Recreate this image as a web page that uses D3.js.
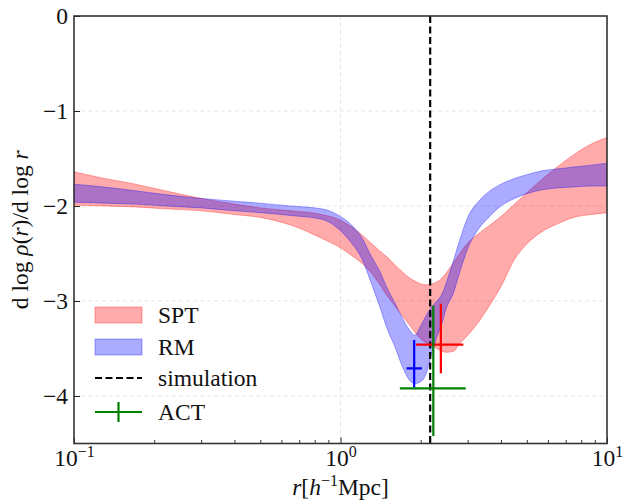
<!DOCTYPE html>
<html>
<head>
<meta charset="utf-8">
<script src="https://cdn.jsdelivr.net/npm/d3@7"></script>
<style>
  body { margin: 0; background: #fff; }
  text { font-family: "Liberation Serif", "Times New Roman", serif; fill: #111; }
</style>
</head>
<body>
<svg id="chart" width="623" height="501"></svg>
<script>
// Radii (h^-1 Mpc) at which the slope bands are sampled
const radius = [0.1, 0.13, 0.17, 0.22, 0.3, 0.4, 0.5, 0.65, 0.85, 1.0, 1.1, 1.2, 1.3, 1.4, 1.5, 1.6, 1.7, 1.8, 1.9, 2.0,
                2.1, 2.2, 2.3, 2.4, 2.5, 2.65, 2.8, 3.0, 3.3, 3.6, 4.0, 4.5, 5.0, 5.7, 6.5, 7.5, 8.7, 10];

// SPT logarithmic slope band
const sptUpper = [-1.64, -1.71, -1.77, -1.84, -1.92, -1.98, -2.02, -2.05, -2.09, -2.15, -2.22, -2.30, -2.39, -2.47, -2.54, -2.62, -2.69, -2.75, -2.79, -2.82,
                  -2.83, -2.82, -2.80, -2.76, -2.70, -2.60, -2.50, -2.39, -2.29, -2.21, -2.11, -1.98, -1.86, -1.72, -1.59, -1.46, -1.35, -1.28];
const sptLower = [-1.99, -2.00, -2.01, -2.03, -2.05, -2.09, -2.12, -2.20, -2.34, -2.44, -2.52, -2.60, -2.70, -2.82, -2.95, -3.05, -3.15, -3.24, -3.33, -3.40,
                  -3.44, -3.47, -3.50, -3.53, -3.54, -3.53, -3.45, -3.36, -3.22, -3.06, -2.85, -2.56, -2.40, -2.27, -2.19, -2.12, -2.09, -2.07];

// RM logarithmic slope band
const rmUpper = [-1.77, -1.80, -1.84, -1.88, -1.92, -1.95, -1.97, -2.00, -2.03, -2.11, -2.20, -2.33, -2.52, -2.68, -2.87, -3.02, -3.17, -3.29, -3.36, -3.26,
                 -3.15, -3.06, -3.00, -2.93, -2.80, -2.58, -2.36, -2.12, -1.95, -1.85, -1.77, -1.71, -1.67, -1.63, -1.61, -1.59, -1.57, -1.55];
const rmLower = [-1.96, -1.97, -1.98, -2.00, -2.02, -2.05, -2.07, -2.10, -2.14, -2.26, -2.39, -2.55, -2.80, -3.05, -3.30, -3.48, -3.68, -3.82, -3.87, -3.85,
                 -3.76, -3.55, -3.38, -3.24, -3.07, -2.92, -2.70, -2.45, -2.24, -2.12, -2.00, -1.92, -1.87, -1.83, -1.81, -1.80, -1.79, -1.79];

// Splashback radius from simulation
const simulationRadius = 2.17;

// Measured splashback points with asymmetric errors
const pointNames  = ["RM", "SPT", "ACT"];
const pointR      = [1.89, 2.38, 2.23];
const pointSlope  = [-3.71, -3.46, -3.92];
const pointRLow   = [1.77, 1.92, 1.67];
const pointRHigh  = [2.02, 2.89, 2.95];
const pointSLow   = [-3.91, -3.76, -4.42];
const pointSHigh  = [-3.41, -3.03, -3.05];

// Axis ticks
const xTickValues = [0.1, 1, 10];
const xTickExponents = ["−1", "0", "1"];
const xMinorTicks = [0.2, 0.3, 0.4, 0.5, 0.6, 0.7, 0.8, 0.9, 2, 3, 4, 5, 6, 7, 8, 9];
const yTickValues = [0, -1, -2, -3, -4];
const yTickLabels = ["0", "−1", "−2", "−3", "−4"];

// Legend entries
const legendLabels = ["SPT", "RM", "simulation", "ACT"];

const colors = { SPT: "#ff0000", RM: "#0000ff", ACT: "#008000" };
const bandAlpha = 0.33;
const fontSize = 23.5, supSize = 16;

const svg = d3.select("#chart");
const plot = { left: 74, right: 607, top: 16, bottom: 443.5 };

const x = d3.scaleLog().domain([0.1, 10]).range([plot.left, plot.right]);
const y = d3.scaleLinear().domain([-4.5, 0]).range([plot.bottom, plot.top]);

svg.append("defs").append("clipPath").attr("id", "plotClip")
  .append("rect")
  .attr("x", plot.left).attr("y", plot.top)
  .attr("width", plot.right - plot.left).attr("height", plot.bottom - plot.top);

// Grid
const grid = svg.append("g").attr("stroke", "#e2e2e2").attr("stroke-width", 0.9).attr("stroke-dasharray", "4,3");
grid.selectAll("line.gx").data([1]).join("line")
  .attr("x1", d => x(d)).attr("x2", d => x(d)).attr("y1", plot.top).attr("y2", plot.bottom);
grid.selectAll("line.gy").data([-1, -2, -3, -4]).join("line")
  .attr("y1", d => y(d)).attr("y2", d => y(d)).attr("x1", plot.left).attr("x2", plot.right);

const layer = svg.append("g").attr("clip-path", "url(#plotClip)");

function band(upper, lower) {
  return d3.area()
    .x((d, i) => x(radius[i]))
    .y0((d, i) => y(lower[i]))
    .y1((d, i) => y(upper[i]))
    .curve(d3.curveMonotoneX)(radius);
}

layer.append("path").attr("d", band(sptUpper, sptLower))
  .attr("fill", colors.SPT).attr("fill-opacity", bandAlpha)
  .attr("stroke", colors.SPT).attr("stroke-opacity", bandAlpha).attr("stroke-width", 1);
layer.append("path").attr("d", band(rmUpper, rmLower))
  .attr("fill", colors.RM).attr("fill-opacity", bandAlpha)
  .attr("stroke", colors.RM).attr("stroke-opacity", bandAlpha).attr("stroke-width", 1);

// Simulation splashback radius
layer.append("line")
  .attr("x1", x(simulationRadius)).attr("x2", x(simulationRadius))
  .attr("y1", plot.top).attr("y2", plot.bottom)
  .attr("stroke", "#000").attr("stroke-width", 2.2).attr("stroke-dasharray", "7,3.5");

// Error bars
pointNames.forEach((name, i) => {
  const g = layer.append("g").attr("stroke", colors[name]).attr("stroke-width", 2.2);
  g.append("line")
    .attr("x1", x(pointRLow[i])).attr("x2", x(pointRHigh[i]))
    .attr("y1", y(pointSlope[i])).attr("y2", y(pointSlope[i]));
  g.append("line")
    .attr("x1", x(pointR[i])).attr("x2", x(pointR[i]))
    .attr("y1", y(pointSLow[i])).attr("y2", y(pointSHigh[i]));
});

// Axes
const xAxis = svg.append("g").attr("transform", `translate(0,${plot.bottom})`)
  .call(d3.axisBottom(x).tickValues(xTickValues).tickSize(-6).tickPadding(6).tickFormat(() => ""));
xAxis.select(".domain").remove();
xAxis.selectAll(".tick line").attr("stroke", "#222").attr("stroke-width", 1);
xAxis.selectAll(".tick text").each(function(d, i) {
  const t = d3.select(this).attr("font-size", fontSize).attr("fill", "#111");
  t.append("tspan").text("10");
  t.append("tspan").attr("dy", -9).attr("font-size", supSize).text(xTickExponents[i]);
});

const xMinor = svg.append("g").attr("transform", `translate(0,${plot.bottom})`)
  .call(d3.axisBottom(x).tickValues(xMinorTicks).tickSize(-3.5).tickFormat(() => ""));
xMinor.select(".domain").remove();
xMinor.selectAll(".tick line").attr("stroke", "#222").attr("stroke-width", 0.9);

const yAxis = svg.append("g").attr("transform", `translate(${plot.left},0)`)
  .call(d3.axisLeft(y).tickValues(yTickValues).tickSize(-6).tickPadding(6)
    .tickFormat((d, i) => yTickLabels[i]));
yAxis.select(".domain").remove();
yAxis.selectAll(".tick line").attr("stroke", "#222").attr("stroke-width", 1);
yAxis.selectAll(".tick text").attr("font-size", fontSize).attr("fill", "#111");

// Frame
svg.append("rect")
  .attr("x", plot.left).attr("y", plot.top)
  .attr("width", plot.right - plot.left).attr("height", plot.bottom - plot.top)
  .attr("fill", "none").attr("stroke", "#333").attr("stroke-width", 1.6);

// Axis labels
const xl = svg.append("text").attr("x", (plot.left + plot.right) / 2).attr("y", 495)
  .attr("text-anchor", "middle").attr("font-size", fontSize);
xl.append("tspan").attr("font-style", "italic").text("r");
xl.append("tspan").text("[");
xl.append("tspan").attr("font-style", "italic").text("h");
xl.append("tspan").attr("dy", -9).attr("font-size", supSize).text("−1");
xl.append("tspan").attr("dy", 9).text("Mpc]");

const yl = svg.append("text")
  .attr("transform", `translate(28,${(plot.top + plot.bottom) / 2}) rotate(-90)`)
  .attr("text-anchor", "middle").attr("font-size", fontSize);
yl.append("tspan").text("d log ");
yl.append("tspan").attr("font-style", "italic").text("ρ");
yl.append("tspan").text("(");
yl.append("tspan").attr("font-style", "italic").text("r");
yl.append("tspan").text(")/d log ");
yl.append("tspan").attr("font-style", "italic").text("r");

// Legend
const legend = svg.append("g");
const rowY = [315, 347, 378, 412];
const patchX0 = 95, patchX1 = 142, textX = 158;
[["SPT", 0], ["RM", 1]].forEach(([name, i]) => {
  legend.append("rect").attr("x", patchX0).attr("y", rowY[i] - 8).attr("width", patchX1 - patchX0).attr("height", 16)
    .attr("fill", colors[name]).attr("fill-opacity", bandAlpha)
    .attr("stroke", colors[name]).attr("stroke-opacity", bandAlpha).attr("stroke-width", 1);
});
legend.append("line").attr("x1", patchX0).attr("x2", patchX1).attr("y1", rowY[2]).attr("y2", rowY[2])
  .attr("stroke", "#000").attr("stroke-width", 2.2).attr("stroke-dasharray", "7,3.5");
legend.append("line").attr("x1", patchX0).attr("x2", patchX1).attr("y1", rowY[3]).attr("y2", rowY[3])
  .attr("stroke", colors.ACT).attr("stroke-width", 2.2);
legend.append("line").attr("x1", (patchX0 + patchX1) / 2).attr("x2", (patchX0 + patchX1) / 2)
  .attr("y1", rowY[3] - 10).attr("y2", rowY[3] + 10)
  .attr("stroke", colors.ACT).attr("stroke-width", 2.2);
legendLabels.forEach((label, i) => {
  legend.append("text").attr("x", textX).attr("y", rowY[i]).attr("dy", "0.35em")
    .attr("font-size", fontSize).text(label);
});
</script>
</body>
</html>
